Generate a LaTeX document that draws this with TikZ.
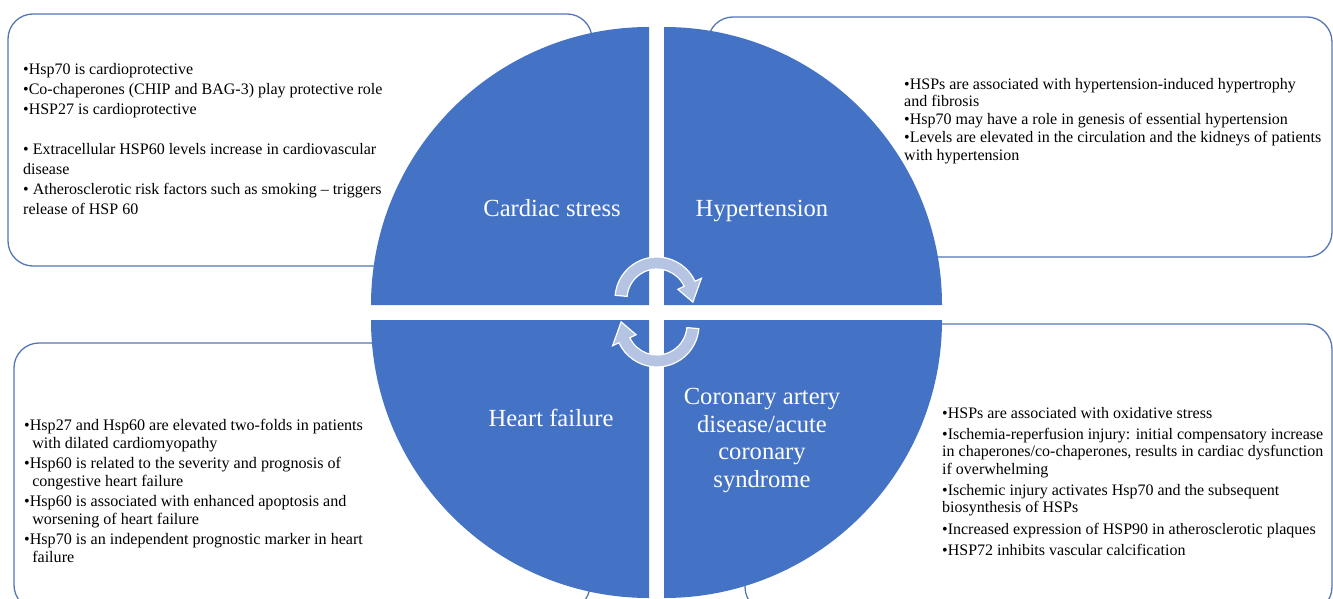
\documentclass[tikz,border=0pt]{standalone}
\usepackage{fontspec}
\setmainfont{Liberation Serif}
\definecolor{qblue}{RGB}{68,114,196}
\definecolor{boxline}{RGB}{84,118,182}
\definecolor{arrowfill}{RGB}{180,196,226}
\begin{document}
\begin{tikzpicture}[x=1pt,y=1pt,
  infobox/.style={draw=boxline, line width=1.3pt, rounded corners=25pt, fill=white},
  quad/.style={fill=qblue},
  title/.style={text=white, font=\fontsize{24.6}{27.6}\selectfont, align=center, inner sep=0},
  bodytext/.style={anchor=north west, align=left, inner sep=0, text=black},
  cyc/.style={fill=arrowfill, draw=white, line width=1.2pt}]
\useasboundingbox (0,0) rectangle (1333,598);
\clip (0,0) rectangle (1333,598);
\fill[white] (0,0) rectangle (1333,598);
% boxes
\draw[infobox] (8,332) rectangle (592,584);
\draw[infobox] (708,341) rectangle (1332,581);
\draw[infobox] (14,-12) rectangle (590,255);
\draw[infobox] (745,-14) rectangle (1332,274);
% quadrants
\fill[quad] (649,293) -- (371,293) arc[start angle=180,end angle=90,radius=278] -- cycle;
\fill[quad] (664,293) -- (664,571) arc[start angle=90,end angle=0,radius=278] -- cycle;
\fill[quad] (649,278) -- (371,278) arc[start angle=180,end angle=270,radius=278] -- cycle;
\fill[quad] (664,278) -- (942,278) arc[start angle=0,end angle=-90,radius=278] -- cycle;
% titles
\node[title] (cardiac) at (552,390) {Cardiac stress};
\node[title] (hyper) at (762,387) {Hypertension};
\node[title] (hf) at (551,180) {Heart failure};
\node[title] (cad) at (762,157.5) {Coronary artery\\disease/acute\\coronary\\syndrome};
% cycle arrows
\begin{scope}[shift={(657,299)}]
\draw[cyc] (175:42) arc[start angle=175,end angle=25,radius=42] -- (25:49) -- (-5:36) -- (25:23) -- (25:30) arc[start angle=25,end angle=175,radius=30] -- cycle;
\end{scope}
\begin{scope}[shift={(657,273)},rotate=180]
\draw[cyc] (175:42) arc[start angle=175,end angle=25,radius=42] -- (25:49) -- (-5:36) -- (25:23) -- (25:30) arc[start angle=25,end angle=175,radius=30] -- cycle;
\end{scope}
% body texts
\node[bodytext, font=\fontsize{16}{20}\selectfont] (tltext) at (23,535)
 {•Hsp70 is cardioprotective\\•Co-chaperones (CHIP and BAG-3) play protective role\\•HSP27 is cardioprotective\\[20pt]• Extracellular HSP60 levels increase in cardiovascular\\disease\\• Atherosclerotic risk factors such as smoking – triggers\\release of HSP 60};
\node[bodytext, font=\fontsize{16}{17.7}\selectfont] (trtext) at (904,520)
 {•HSPs are associated with hypertension-induced hypertrophy\\and fibrosis\\•Hsp70 may have a role in genesis of essential hypertension\\•Levels are elevated in the circulation and the kidneys of patients\\with hypertension};
\node[bodytext, font=\fontsize{16.1}{18}\selectfont] (bltext) at (24,179)
 {•Hsp27 and Hsp60 are elevated two-folds in patients\\\hspace*{0.5em}with dilated cardiomyopathy\\[2pt]•Hsp60 is related to the severity and prognosis of\\\hspace*{0.5em}congestive heart failure\\[2pt]•Hsp60 is associated with enhanced apoptosis and\\\hspace*{0.5em}worsening of heart failure\\[2pt]•Hsp70 is an independent prognostic marker in heart\\\hspace*{0.5em}failure};
\node[bodytext, font=\fontsize{16}{17.3}\selectfont] (brtext) at (942,191)
 {•HSPs are associated with oxidative stress\\[4pt]•Ischemia-reperfusion injury: initial compensatory increase\\in chaperones/co-chaperones, results in cardiac dysfunction\\if overwhelming\\[4pt]•Ischemic injury activates Hsp70 and the subsequent\\biosynthesis of HSPs\\[4pt]•Increased expression of HSP90 in atherosclerotic plaques\\[4pt]•HSP72 inhibits vascular calcification};
\end{tikzpicture}
\end{document}
